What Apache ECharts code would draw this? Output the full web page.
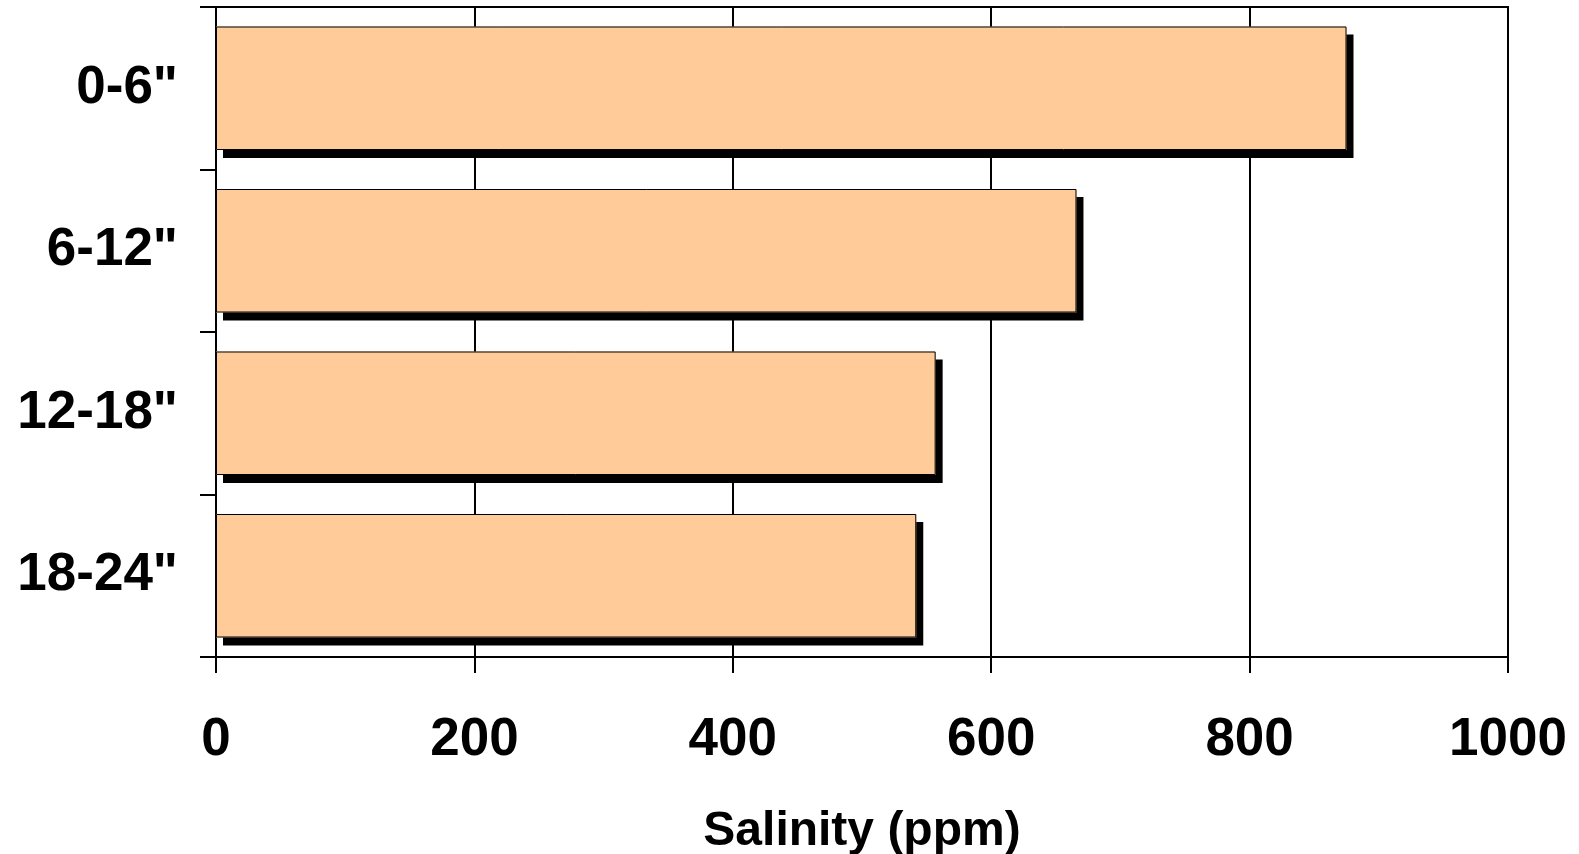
<!DOCTYPE html>
<html>
<head>
<meta charset="utf-8">
<script src="https://cdn.jsdelivr.net/npm/echarts@6/dist/echarts.min.js"></script>
<style>
  html, body { margin: 0; padding: 0; background: #fff; }
  #chart { width: 1579px; height: 854px; }
</style>
</head>
<body>
<div id="chart"></div>
<script>
// Soil depth intervals, top to bottom
const depths = ['0-6"', '6-12"', '12-18"', '18-24"'];
// Salinity at each depth, ppm
const salinity = [875, 666, 557, 542];
// Salinity axis ticks
const xMin = 0;
const xMax = 1000;
const xStep = 200;
const xTitle = 'Salinity (ppm)';

const FONT = 'Arial, "Liberation Sans", sans-serif';

const chart = echarts.init(document.getElementById('chart'), null, { renderer: 'canvas' });
chart.setOption({
  animation: false,
  backgroundColor: '#ffffff',
  grid: {
    left: 216, right: 71, top: 7, bottom: 197,
    outerBoundsMode: 'none',
    containLabel: false,
    show: true, borderColor: '#000', borderWidth: 2, backgroundColor: 'transparent'
  },
  xAxis: {
    type: 'value',
    min: xMin, max: xMax, interval: xStep,
    name: xTitle,
    nameLocation: 'middle',
    nameGap: 151,
    nameTextStyle: { fontFamily: FONT, fontWeight: 'bold', fontSize: 48, color: '#000' },
    axisLine: { show: true, lineStyle: { color: '#000', width: 2 } },
    axisTick: { show: true, inside: false, length: 16, lineStyle: { color: '#000', width: 2 } },
    axisLabel: {
      margin: 57, fontFamily: FONT, fontWeight: 'bold', fontSize: 53, color: '#000',
      formatter: v => String(v)
    },
    splitLine: { show: true, lineStyle: { color: '#000', width: 2 } }
  },
  yAxis: {
    type: 'category',
    data: depths,
    inverse: true,
    axisLine: { show: true, lineStyle: { color: '#000', width: 2 } },
    axisTick: { show: true, inside: false, length: 16, lineStyle: { color: '#000', width: 2 } },
    axisLabel: { margin: 38, fontFamily: FONT, fontWeight: 'bold', fontSize: 53, color: '#000' },
    splitLine: { show: false }
  },
  series: [
    {
      // filled bars with a hard drop shadow
      type: 'bar',
      data: salinity,
      barCategoryGap: '24%',
      itemStyle: {
        color: '#FFCC99',
        borderWidth: 0,
        shadowColor: '#000',
        shadowBlur: 0,
        shadowOffsetX: 7,
        shadowOffsetY: 8
      },
      emphasis: { disabled: true },
      z: 2
    },
    {
      // thin outline drawn over the same bars, without shadow
      type: 'bar',
      data: salinity,
      barGap: '-100%',
      barCategoryGap: '24%',
      itemStyle: {
        color: 'transparent',
        borderColor: '#000',
        borderWidth: 1
      },
      emphasis: { disabled: true },
      silent: true,
      z: 3
    }
  ]
});
</script>
</body>
</html>
